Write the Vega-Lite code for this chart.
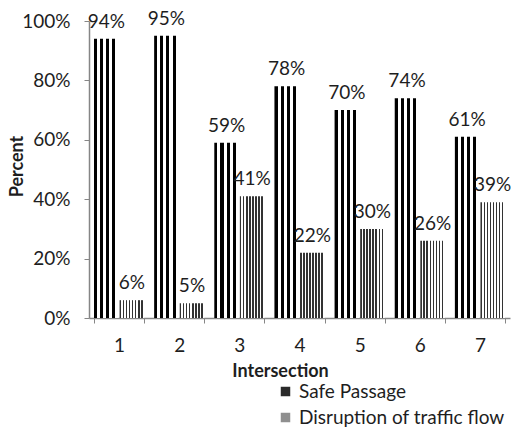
{
  "$schema": "https://vega.github.io/schema/vega-lite/v6.json",
  "width": 421,
  "height": 297,
  "autosize": {"type": "none"},
  "padding": {"left": 89, "top": 21, "right": 1, "bottom": 112},
  "background": "white",
  "config": {
    "view": {"stroke": null},
    "font": "Lato",
    "axis": {"grid": false, "domainColor": "#868686", "tickColor": "#868686", "domainWidth": 1.5, "labelColor": "#1e1e1e", "titleColor": "#1e1e1e", "labelFontSize": 19, "titleFontSize": 18, "titleFontWeight": "bold", "labelFont": "Lato", "titleFont": "Lato"}
  },
  "data": {
    "values": [
      {"intersection": "1", "series": "Safe Passage", "value": 0.94},
      {"intersection": "1", "series": "Disruption of traffic flow", "value": 0.06},
      {"intersection": "2", "series": "Safe Passage", "value": 0.95},
      {"intersection": "2", "series": "Disruption of traffic flow", "value": 0.05},
      {"intersection": "3", "series": "Safe Passage", "value": 0.59},
      {"intersection": "3", "series": "Disruption of traffic flow", "value": 0.41},
      {"intersection": "4", "series": "Safe Passage", "value": 0.78},
      {"intersection": "4", "series": "Disruption of traffic flow", "value": 0.22},
      {"intersection": "5", "series": "Safe Passage", "value": 0.70},
      {"intersection": "5", "series": "Disruption of traffic flow", "value": 0.30},
      {"intersection": "6", "series": "Safe Passage", "value": 0.74},
      {"intersection": "6", "series": "Disruption of traffic flow", "value": 0.26},
      {"intersection": "7", "series": "Safe Passage", "value": 0.61},
      {"intersection": "7", "series": "Disruption of traffic flow", "value": 0.39}
    ]
  },
  "encoding": {
    "x": {
      "field": "intersection",
      "type": "ordinal",
      "scale": {"paddingInner": 0.1667, "paddingOuter": 0.0833},
      "axis": {
        "title": "Intersection",
        "labelAngle": 0,
        "tickBand": "extent",
        "tickSize": 5,
        "labelPadding": 13,
        "titleX": 191,
        "titleY": 58,
        "titleAlign": "center",
        "titleBaseline": "alphabetic"
      }
    },
    "xOffset": {
      "field": "series",
      "type": "nominal",
      "scale": {"domain": ["Safe Passage", "Disruption of traffic flow"], "paddingInner": 0.04}
    },
    "y": {
      "field": "value",
      "type": "quantitative",
      "scale": {"domain": [0, 1]},
      "axis": {
        "title": "Percent",
        "values": [0, 0.2, 0.4, 0.6, 0.8, 1],
        "format": ".0%",
        "tickSize": 5,
        "labelPadding": 14,
        "titleX": -72,
        "titleY": 145,
        "titleAngle": -90,
        "titleAlign": "center",
        "titleBaseline": "middle"
      }
    }
  },
  "layer": [
    {
      "mark": {"type": "bar"},
      "encoding": {
        "fill": {
          "condition": {
            "test": "datum.series === 'Safe Passage'",
            "value": {"gradient": "linear", "x1": 0, "y1": 0, "x2": 1, "y2": 0, "stops": [
                {"offset": 0, "color": "#000000"}, {"offset": 0.125, "color": "#000000"},
                {"offset": 0.125, "color": "#ffffff"}, {"offset": 0.25, "color": "#ffffff"},
                {"offset": 0.25, "color": "#000000"}, {"offset": 0.375, "color": "#000000"},
                {"offset": 0.375, "color": "#ffffff"}, {"offset": 0.5, "color": "#ffffff"},
                {"offset": 0.5, "color": "#000000"}, {"offset": 0.625, "color": "#000000"},
                {"offset": 0.625, "color": "#ffffff"}, {"offset": 0.75, "color": "#ffffff"},
                {"offset": 0.75, "color": "#000000"}, {"offset": 0.875, "color": "#000000"},
                {"offset": 0.875, "color": "#ffffff"}, {"offset": 1, "color": "#ffffff"}
            ]}
          },
          "value": {"gradient": "linear", "x1": 0, "y1": 0, "x2": 1, "y2": 0, "stops": [
                {"offset": 0, "color": "#333333"}, {"offset": 0.0625, "color": "#333333"},
                {"offset": 0.0625, "color": "#ffffff"}, {"offset": 0.125, "color": "#ffffff"},
                {"offset": 0.125, "color": "#333333"}, {"offset": 0.1875, "color": "#333333"},
                {"offset": 0.1875, "color": "#ffffff"}, {"offset": 0.25, "color": "#ffffff"},
                {"offset": 0.25, "color": "#333333"}, {"offset": 0.3125, "color": "#333333"},
                {"offset": 0.3125, "color": "#ffffff"}, {"offset": 0.375, "color": "#ffffff"},
                {"offset": 0.375, "color": "#333333"}, {"offset": 0.4375, "color": "#333333"},
                {"offset": 0.4375, "color": "#ffffff"}, {"offset": 0.5, "color": "#ffffff"},
                {"offset": 0.5, "color": "#333333"}, {"offset": 0.5625, "color": "#333333"},
                {"offset": 0.5625, "color": "#ffffff"}, {"offset": 0.625, "color": "#ffffff"},
                {"offset": 0.625, "color": "#333333"}, {"offset": 0.6875, "color": "#333333"},
                {"offset": 0.6875, "color": "#ffffff"}, {"offset": 0.75, "color": "#ffffff"},
                {"offset": 0.75, "color": "#333333"}, {"offset": 0.8125, "color": "#333333"},
                {"offset": 0.8125, "color": "#ffffff"}, {"offset": 0.875, "color": "#ffffff"},
                {"offset": 0.875, "color": "#333333"}, {"offset": 0.9375, "color": "#333333"},
                {"offset": 0.9375, "color": "#ffffff"}, {"offset": 1, "color": "#ffffff"}
          ]}
        }
      }
    },
    {
      "mark": {"type": "bar", "opacity": 0},
      "encoding": {
        "fill": {
          "field": "series",
          "type": "nominal",
          "scale": {"domain": ["Safe Passage", "Disruption of traffic flow"], "range": ["#2a2a2a", "#8f8f8f"]},
          "legend": {
            "orient": "none",
            "legendX": 187,
            "legendY": 361,
            "title": null,
            "direction": "vertical",
            "symbolType": "square",
            "symbolSize": 90,
            "symbolOpacity": 1,
            "symbolStrokeWidth": 0,
            "labelFontSize": 19,
            "labelFont": "Lato",
            "labelColor": "#1e1e1e",
            "labelOffset": 4,
            "labelLimit": 0,
            "rowPadding": 6,
            "padding": 0
          }
        }
      }
    },
    {
      "mark": {"type": "text", "baseline": "alphabetic", "dy": -11, "fontSize": 19, "font": "Lato", "color": "#1e1e1e"},
      "encoding": {
        "text": {"field": "value", "type": "quantitative", "format": ".0%"}
      }
    }
  ]
}
